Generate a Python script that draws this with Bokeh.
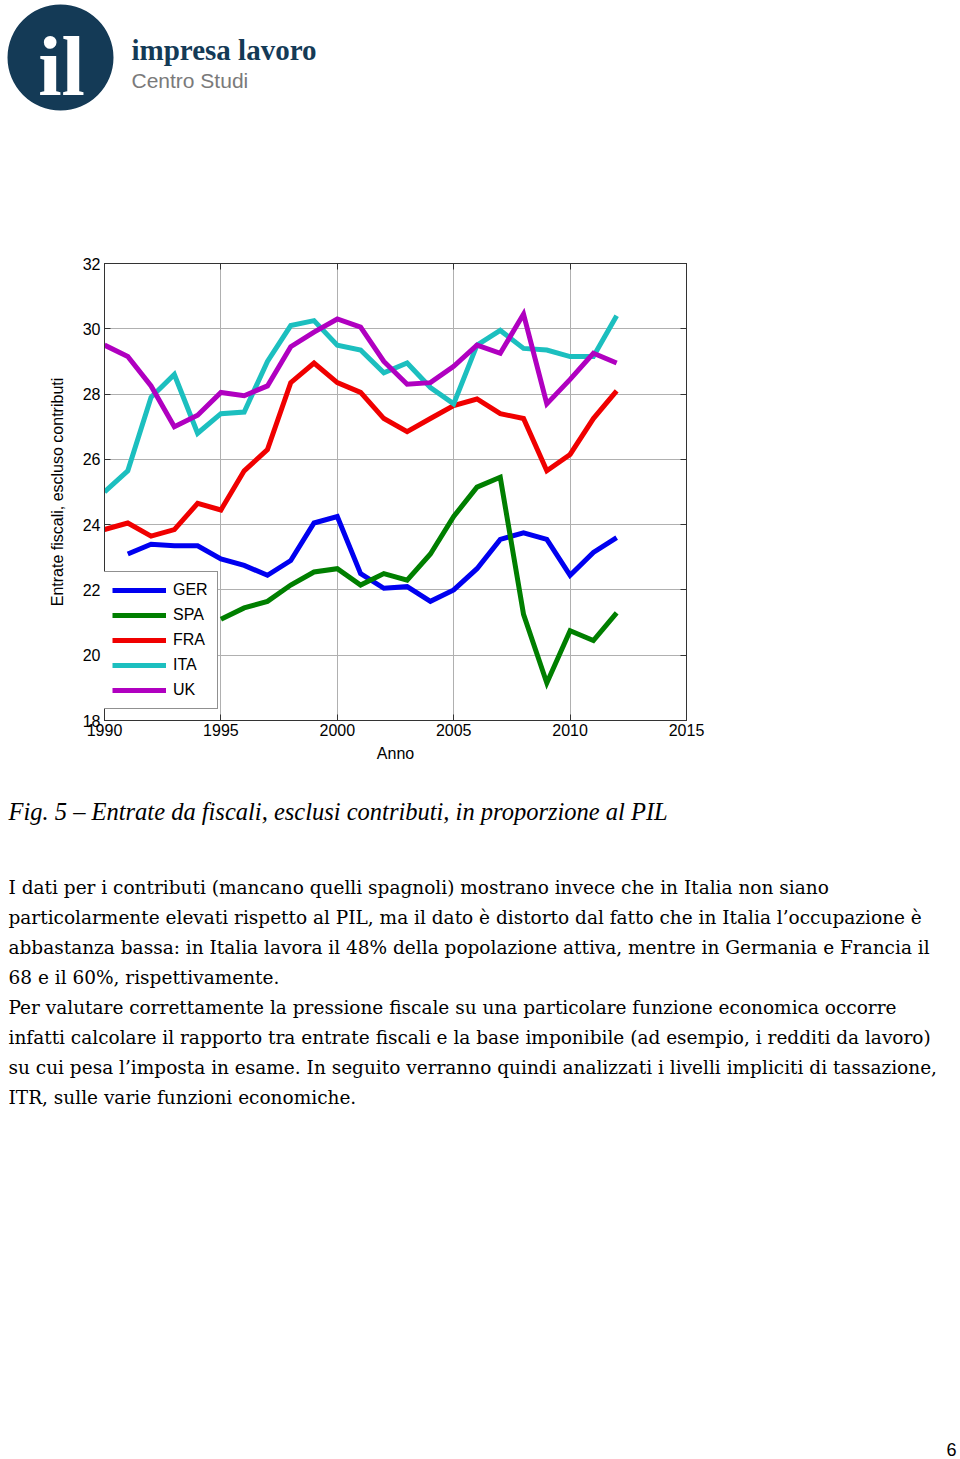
import math
from bokeh.plotting import figure
from bokeh.models import Range1d, LinearAxis, FixedTicker, Legend, LegendItem
from bokeh.embed import file_html
from bokeh.resources import INLINE
from bokeh.core.properties import value

nan = float("nan")

# ---------------- data ----------------
years = list(range(1990, 2013))
GER = [nan, 23.1, 23.4, 23.35, 23.35, 22.95, 22.75, 22.45, 22.9, 24.05, 24.25, 22.5,
       22.05, 22.1, 21.65, 22.0, 22.65, 23.55, 23.75, 23.55, 22.45, 23.15, 23.6]
SPA = [nan, nan, nan, nan, nan, 21.1, 21.45, 21.65, 22.15, 22.55, 22.65, 22.15,
       22.5, 22.3, 23.1, 24.25, 25.15, 25.45, 21.25, 19.15, 20.75, 20.45, 21.3]
FRA = [23.85, 24.05, 23.65, 23.85, 24.65, 24.45, 25.65, 26.3, 28.35, 28.95, 28.35, 28.05,
       27.25, 26.85, 27.25, 27.65, 27.85, 27.4, 27.25, 25.65, 26.15, 27.25, 28.1]
ITA = [25.0, 25.65, 27.9, 28.6, 26.8, 27.4, 27.45, 29.0, 30.1, 30.25, 29.5, 29.35,
       28.65, 28.95, 28.2, 27.7, 29.5, 29.95, 29.4, 29.35, 29.15, 29.15, 30.4]
UK = [29.5, 29.15, 28.25, 27.0, 27.35, 28.05, 27.95, 28.25, 29.45, 29.9, 30.3, 30.05,
      29.0, 28.3, 28.35, 28.85, 29.5, 29.25, 30.45, 27.7, 28.45, 29.25, 28.95]

series_names = ["GER", "SPA", "FRA", "ITA", "UK"]
series_values = [GER, SPA, FRA, ITA, UK]
series_colors = ["#0000f0", "#007f00", "#f00000", "#1cbfbf", "#b000c0"]

x_ticks = [1990, 1995, 2000, 2005, 2010, 2015]
y_ticks = [18, 20, 22, 24, 26, 28, 30, 32]

x_label = "Anno"
y_label = "Entrate fiscali, escluso contributi"

logo_mark = "il"
logo_title = "impresa lavoro"
logo_sub = "Centro Studi"

caption = "Fig. 5 \u2013 Entrate da fiscali, esclusi contributi, in proporzione al PIL"
paragraph = [
    "I dati per i contributi (mancano quelli spagnoli) mostrano invece che in Italia non siano",
    "particolarmente elevati rispetto al PIL, ma il dato \u00e8 distorto dal fatto che in Italia l\u2019occupazione \u00e8",
    "abbastanza bassa: in Italia lavora il 48% della popolazione attiva, mentre in Germania e Francia il",
    "68 e il 60%, rispettivamente.",
    "Per valutare correttamente la pressione fiscale su una particolare funzione economica occorre",
    "infatti calcolare il rapporto tra entrate fiscali e la base imponibile (ad esempio, i redditi da lavoro)",
    "su cui pesa l\u2019imposta in esame. In seguito verranno quindi analizzati i livelli impliciti di tassazione,",
    "ITR, sulle varie funzioni economiche.",
]
page_number = "6"

W = 960
SANS = "Liberation Sans"
SERIF = "Liberation Serif"
BODY = "DejaVu Serif"


def blank(height):
    f = figure(width=W, height=height, output_backend="svg", toolbar_location=None,
               x_range=Range1d(0, W), y_range=Range1d(height, 0),
               min_border=0, x_axis_location=None, y_axis_location=None)
    f.grid.visible = False
    f.outline_line_color = None
    f.background_fill_color = "white"
    f.border_fill_color = "white"
    return f


def base_y(baseline, size):
    # the svg text baseline renders ~0.35em lower than requested
    return baseline - 0.35 * size


# ---------------- header / logo ----------------
H1 = 130
logo = blank(H1)
logo.circle(x=[60], y=[57], radius=53, fill_color="#143a56", line_color=None)
logo.text(x=[61], y=[66], text=[logo_mark], text_align="center", text_baseline="alphabetic",
          text_font=value(SERIF), text_font_style="bold", text_font_size="84px",
          text_color="white")
logo.text(x=[131], y=[base_y(60, 29)], text=[logo_title], text_baseline="alphabetic",
          text_font=value(SERIF), text_font_style="bold", text_font_size="29px",
          text_color="#143a56")
logo.text(x=[131], y=[base_y(87, 21)], text=[logo_sub], text_baseline="alphabetic",
          text_font=value(SANS), text_font_size="21px", text_color="#7a7a7a")

# ---------------- chart ----------------
H2 = 660
p = figure(width=W, height=H2, output_backend="svg", toolbar_location=None,
           x_range=Range1d(1990, 2015), y_range=Range1d(18, 32),
           min_border_left=104, min_border_right=274, min_border_top=133, min_border_bottom=70)
p.background_fill_color = "white"
p.border_fill_color = "white"
p.outline_line_color = "#333333"
p.outline_line_width = 1

renderers = []
for name, vals, col in zip(series_names, series_values, series_colors):
    r = p.line(years, vals, line_color=col, line_width=5, line_join="miter")
    renderers.append((name, r))

for ax in p.xaxis + p.yaxis:
    ax.major_tick_in = 6
    ax.major_tick_out = 0
    ax.minor_tick_line_color = None
    ax.axis_line_color = "#333333"
    ax.major_tick_line_color = "#333333"
    ax.major_label_text_font = SANS
    ax.major_label_text_font_size = "16px"
    ax.major_label_text_color = "black"
    ax.axis_label_text_font = SANS
    ax.axis_label_text_font_size = "16px"
    ax.axis_label_text_font_style = "normal"
    ax.axis_label_text_color = "black"

p.xaxis.ticker = FixedTicker(ticks=x_ticks)
p.yaxis.ticker = FixedTicker(ticks=y_ticks)
p.xaxis.axis_label = x_label
p.yaxis.axis_label = y_label
p.xaxis.major_label_standoff = 3
p.xaxis.axis_label_standoff = 6
p.yaxis.major_label_standoff = 4
p.yaxis.axis_label_standoff = 14

for loc, ticks in (("above", x_ticks), ("right", y_ticks)):
    a = LinearAxis(ticker=FixedTicker(ticks=ticks))
    a.major_tick_in = 6
    a.major_tick_out = 0
    a.minor_tick_line_color = None
    a.axis_line_color = "#333333"
    a.major_tick_line_color = "#333333"
    a.major_label_text_font_size = "0px"
    a.major_label_text_color = None
    p.add_layout(a, loc)

p.xgrid.ticker = FixedTicker(ticks=x_ticks)
p.ygrid.ticker = FixedTicker(ticks=y_ticks)
p.grid.grid_line_color = "#b0b0b0"
p.grid.grid_line_width = 1

legend = Legend(items=[LegendItem(label=n, renderers=[r]) for n, r in renderers],
                location=(-2, 11), orientation="vertical")
legend.label_text_font = SANS
legend.label_text_font_size = "16px"
legend.label_text_color = "black"
legend.glyph_width = 54
legend.glyph_height = 18
legend.label_height = 18
legend.label_standoff = 7
legend.spacing = 7
legend.padding = 9
legend.margin = 0
legend.border_line_color = "#222222"
legend.border_line_width = 1
legend.background_fill_color = "white"
legend.background_fill_alpha = 1
p.add_layout(legend)

# ---------------- text ----------------
H3 = 1459 - H1 - H2
txt = blank(H3)
CAP = 24.5
txt.text(x=[8], y=[base_y(30, CAP)], text=[caption], text_baseline="alphabetic",
         text_font=value(SERIF), text_font_style="italic", text_font_size=f"{CAP}px",
         text_color="black")
BS = 18.5
txt.text(x=[8] * len(paragraph), y=[base_y(103 + 30 * i, BS) for i in range(len(paragraph))],
         text=paragraph, text_baseline="alphabetic",
         text_font=value(BODY), text_font_size=f"{BS}px", text_color="black")
txt.text(x=[956], y=[base_y(H3 - 4, 18)], text=[page_number], text_align="right",
         text_baseline="alphabetic",
         text_font=value(SANS), text_font_size="18px", text_color="black")

open("out.html", "w").write(file_html([logo, p, txt], INLINE))
